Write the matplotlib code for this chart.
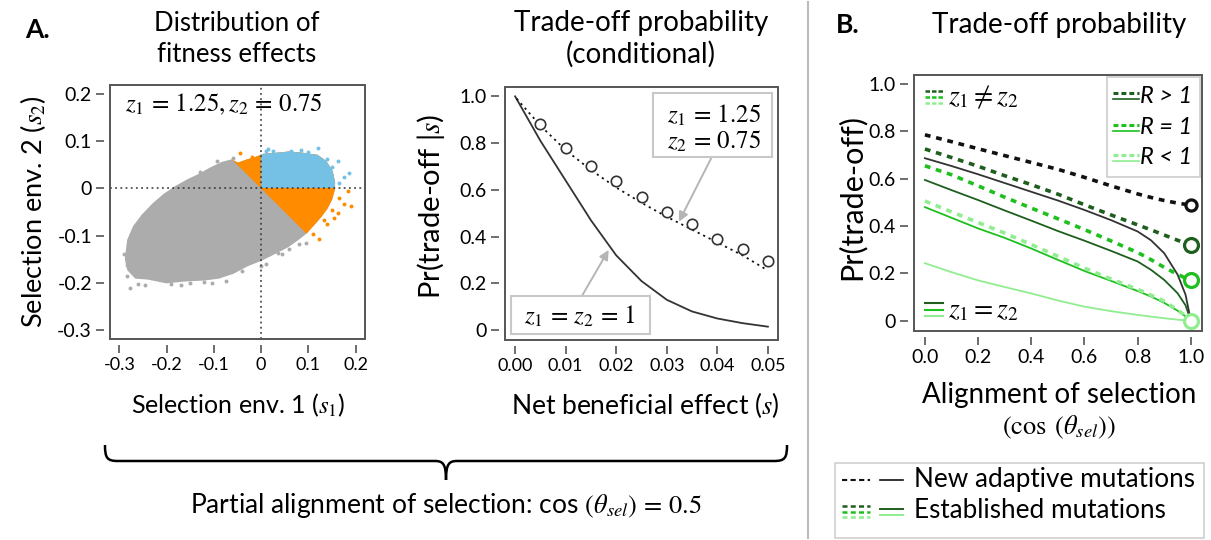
import matplotlib
matplotlib.use("Agg")
import matplotlib.pyplot as plt
from matplotlib.patches import Polygon, Rectangle, PathPatch
from matplotlib.path import Path
from matplotlib.lines import Line2D

plt.rcParams['font.family'] = ['Lato', 'DejaVu Sans']
plt.rcParams['mathtext.fontset'] = 'stix'

W, H = 1211, 540

# ---------------- data: panel A1 (distribution of fitness effects) -------------
cloud_s1 = [-0.285, -0.280, -0.268, -0.250, -0.228, -0.205, -0.180, -0.155, -0.130,
            -0.105, -0.082, -0.063, -0.049, -0.030, -0.010, 0.005, 0.030, 0.060,
            0.090, 0.118, 0.135, 0.148, 0.153, 0.152, 0.147, 0.138, 0.125, 0.110,
            0.094, 0.075, 0.055, 0.030, 0.000, -0.030, -0.060, -0.090, -0.120,
            -0.160, -0.200, -0.240, -0.265, -0.280]
cloud_s2 = [-0.150, -0.110, -0.082, -0.058, -0.035, -0.015, 0.002, 0.016, 0.028,
            0.042, 0.053, 0.058, 0.051, 0.058, 0.064, 0.070, 0.072, 0.075,
            0.072, 0.068, 0.056, 0.036, 0.012, -0.004, -0.022, -0.040, -0.058, -0.075,
            -0.093, -0.108, -0.122, -0.135, -0.150, -0.162, -0.178, -0.188, -0.192,
            -0.194, -0.198, -0.190, -0.188, -0.172]
gray_pts_s1 = [-0.277, -0.260, -0.284, -0.274, -0.204, -0.094, 0.096, 0.035, -0.074,
               -0.190, -0.230, -0.150, -0.120, 0.060, -0.285, -0.245, -0.170, -0.105,
               -0.040, 0.010, 0.045, 0.080, -0.290, -0.215, -0.130, -0.060, 0.000]
gray_pts_s2 = [-0.211, -0.204, -0.162, -0.102, -0.013, 0.058, -0.116, -0.137, -0.197,
               -0.204, -0.060, -0.200, -0.199, -0.128, -0.185, -0.205, -0.206, -0.200,
               -0.175, -0.160, -0.140, -0.118, -0.140, -0.030, 0.035, 0.064, -0.165]
orange_pts_s1 = [-0.045, 0.190, 0.183, 0.162, 0.155, 0.134, 0.123, 0.109, 0.176, 0.165,
                 -0.020, 0.140, 0.150]
orange_pts_s2 = [0.0745, -0.038, -0.006, -0.052, -0.062, -0.066, -0.108, -0.096, -0.034, -0.020,
                 0.066, -0.075, -0.045]
blue_pts_s1 = [0.014, 0.120, 0.162, 0.187, 0.176, 0.064, 0.043, 0.100, 0.150, 0.010,
               0.025, 0.085, 0.140, 0.165]
blue_pts_s2 = [0.083, 0.0866, 0.058, 0.033, 0.025, 0.079, 0.074, 0.078, 0.045, 0.079,
               0.080, 0.082, 0.062, 0.012]

# ---------------- data: panel A2 (conditional trade-off probability) -----------
s_grid = [0.0, 0.005, 0.01, 0.015, 0.02, 0.025, 0.03, 0.035, 0.04, 0.045, 0.05]
p_equal = [1.0, 0.81, 0.64, 0.47, 0.32, 0.21, 0.13, 0.08, 0.05, 0.03, 0.015]
s_dot = [0.0003, 0.005, 0.01, 0.015, 0.02, 0.025, 0.03, 0.035, 0.04, 0.045, 0.05]
p_unequal = [0.99, 0.875, 0.77, 0.685, 0.61, 0.545, 0.485, 0.43, 0.375, 0.32, 0.255]
s_sim = [0.005, 0.01, 0.015, 0.02, 0.025, 0.03, 0.035, 0.04, 0.045, 0.05]
p_sim = [0.883, 0.781, 0.704, 0.637, 0.569, 0.504, 0.453, 0.39, 0.346, 0.296]

# ---------------- data: panel B (trade-off probability vs alignment) -----------
cos_grid = [0.0, 0.1, 0.2, 0.3, 0.4, 0.5, 0.6, 0.7, 0.8, 0.85, 0.9, 0.95, 0.98, 1.0]
new_uneq = [0.786, 0.757, 0.727, 0.698, 0.669, 0.640, 0.606, 0.570, 0.536, 0.521, 0.508, 0.497, 0.492, 0.490]
est_hi_uneq = [0.726, 0.690, 0.653, 0.613, 0.575, 0.535, 0.490, 0.447, 0.405, 0.384, 0.362, 0.340, 0.328, 0.320]
est_eq1_uneq = [0.655, 0.617, 0.570, 0.522, 0.476, 0.431, 0.385, 0.337, 0.288, 0.258, 0.225, 0.196, 0.180, 0.170]
est_lo_uneq = [0.506, 0.460, 0.415, 0.370, 0.322, 0.272, 0.222, 0.176, 0.132, 0.108, 0.082, 0.045, 0.020, 0.0]
new_eq = [0.687, 0.654, 0.619, 0.582, 0.545, 0.508, 0.468, 0.425, 0.377, 0.340, 0.285, 0.195, 0.110, 0.0]
est_hi_eq = [0.595, 0.552, 0.510, 0.466, 0.423, 0.379, 0.338, 0.295, 0.250, 0.215, 0.172, 0.116, 0.065, 0.0]
est_eq1_eq = [0.480, 0.435, 0.390, 0.350, 0.305, 0.257, 0.210, 0.168, 0.125, 0.102, 0.075, 0.042, 0.018, 0.0]
est_lo_eq = [0.243, 0.205, 0.170, 0.142, 0.115, 0.085, 0.059, 0.040, 0.024, 0.017, 0.010, 0.004, 0.001, 0.0]
end_cos = [1.0, 1.0, 1.0, 1.0]
end_vals = [0.490, 0.320, 0.170, 0.0]

C_DG = '#1e5f1e'
C_G = '#1ec01e'
C_LG = '#90ee90'
C_BLK = '#111111'
C_SOL = '#333333'
C_GRAY = '#acacac'
C_OR = '#ff8c00'
C_BL = '#74c1e5'
FRAME = '#555555'


def fx(X):
    return X / W


def fy(Y):
    return 1 - Y / H


def make_ax(X0, X1, Y0, Y1):
    ax = fig.add_axes([fx(X0), fy(Y1), (X1 - X0) / W, (Y1 - Y0) / H])
    for sp in ['top', 'right']:
        ax.spines[sp].set_visible(False)
    for sp in ['bottom', 'left']:
        ax.spines[sp].set_position(('outward', 4))
        ax.spines[sp].set_color('none')
    ax.add_patch(Rectangle((0, 0), 1, 1, transform=ax.transAxes, fill=False,
                           ec=FRAME, lw=1.4, clip_on=False, zorder=10))
    ax.tick_params(direction='out', length=6, width=1.2, color=FRAME, pad=3)
    return ax


fig = plt.figure(figsize=(W / 100, H / 100), dpi=100)

# ======================= Panel A1 ==========================
ax1 = make_ax(110, 365, 85, 339)
ax1.set_xlim(-0.32, 0.22)
ax1.set_ylim(-0.32, 0.22)
verts = list(zip(cloud_s1, cloud_s2))
ax1.add_patch(Polygon(verts, closed=True, fc=C_GRAY, ec=C_GRAY, lw=2.5, zorder=2))
ax1.scatter(gray_pts_s1, gray_pts_s2, s=8, c=C_GRAY, lw=0, zorder=2)
orange = Polygon(verts, closed=True, fc=C_OR, ec=C_OR, lw=2.5, zorder=3)
ax1.add_patch(orange)
half = Polygon([(-1, 1), (1, -1), (1, 1)], closed=True, transform=ax1.transData)
orange.set_clip_path(half)
blue = Polygon(verts, closed=True, fc=C_BL, ec=C_BL, lw=2.5, zorder=4)
ax1.add_patch(blue)
quad = Polygon([(0, 0), (1, 0), (1, 1), (0, 1)], closed=True, transform=ax1.transData)
blue.set_clip_path(quad)
ax1.scatter(orange_pts_s1, orange_pts_s2, s=8, c=C_OR, lw=0, zorder=3)
ax1.scatter(blue_pts_s1, blue_pts_s2, s=8, c=C_BL, lw=0, zorder=4)
ax1.axhline(0, color='#333333', ls=(0, (1.2, 2.2)), lw=1.1, zorder=5)
ax1.axvline(0, color='#333333', ls=(0, (1.2, 2.2)), lw=1.1, zorder=5)
a1_ticks = [-0.3, -0.2, -0.1, 0, 0.1, 0.2]
a1_labels = ['-0.3', '-0.2', '-0.1', '0', '0.1', '0.2']
ax1.set_xticks(a1_ticks, a1_labels, fontsize=13)
ax1.set_yticks(a1_ticks, a1_labels, fontsize=14)
ax1.text(0.06, 0.925, r'$z_1\,=\,1.25, z_2\,=\,0.75$', transform=ax1.transAxes,
         fontsize=18, ha='left', va='center', zorder=6)

# ======================= Panel A2 ==========================
ax2 = make_ax(505, 778, 87, 340)
ax2.set_xlim(-0.002, 0.052)
ax2.set_ylim(-0.042, 1.04)
ax2.plot(s_grid, p_equal, color=C_SOL, lw=1.3)
ax2.plot(s_dot, p_unequal, color=C_BLK, lw=1.3, ls=(0, (1.2, 2.2)))
ax2.plot(s_sim, p_sim, ls='none', marker='o', ms=7.5, mfc='white', mec=C_SOL, mew=1.2)
ax2.set_xticks([0, 0.01, 0.02, 0.03, 0.04, 0.05],
               ['0.00', '0.01', '0.02', '0.03', '0.04', '0.05'], fontsize=13)
ax2.set_yticks([0, 0.2, 0.4, 0.6, 0.8, 1.0], ['0', '0.2', '0.4', '0.6', '0.8', '1.0'], fontsize=14)
# annotation boxes
ax2.add_patch(Rectangle((0.0272, 0.74), 0.0236, 0.273, fc='white', ec='#c8c8c8', lw=1.5, zorder=6))
ax2.text(0.0486, 0.92, r'$z_1\,=\,1.25$', ha='right', va='center', fontsize=18, zorder=7)
ax2.text(0.0486, 0.808, r'$z_2\,=\,0.75$', ha='right', va='center', fontsize=18, zorder=7)
ax2.annotate('', xy=(0.0324, 0.464), xytext=(0.0388, 0.736),
             arrowprops=dict(arrowstyle='-|>', color='#b5b5b5', lw=1.4, mutation_scale=14,
                             shrinkA=0, shrinkB=0))
ax2.add_patch(Rectangle((-0.0008, -0.017), 0.0274, 0.163, fc='white', ec='#c8c8c8', lw=1.5, zorder=6))
ax2.text(0.0128, 0.058, r'$z_1\,=\,z_2\,=\,1$', ha='center', va='center', fontsize=18, zorder=7)
ax2.annotate('', xy=(0.0185, 0.343), xytext=(0.0132, 0.146),
             arrowprops=dict(arrowstyle='-|>', color='#b5b5b5', lw=1.4, mutation_scale=14,
                             shrinkA=0, shrinkB=0))

# ======================= Panel B ==========================
axb = make_ax(914, 1202, 75, 331)
axb.set_xlim(-0.041, 1.042)
axb.set_ylim(-0.044, 1.039)
dash = (0, (1.6, 1.6))
axb.plot(cos_grid, est_lo_eq, color=C_LG, lw=1.3)
axb.plot(cos_grid, est_eq1_eq, color=C_G, lw=1.3)
axb.plot(cos_grid, est_hi_eq, color=C_DG, lw=1.3)
axb.plot(cos_grid, new_eq, color=C_SOL, lw=1.3)
axb.plot(cos_grid, est_lo_uneq, color=C_LG, lw=2.6, ls=dash)
axb.plot(cos_grid, est_eq1_uneq, color=C_G, lw=2.6, ls=dash)
axb.plot(cos_grid, est_hi_uneq, color=C_DG, lw=2.6, ls=dash)
axb.plot(cos_grid, new_uneq, color=C_BLK, lw=2.6, ls=dash)
end_cols = [C_BLK, C_DG, C_G, C_LG]
end_ms = [8, 10, 10, 10]
for xv, yv, cc, mm in zip(end_cos, end_vals, end_cols, end_ms):
    axb.plot([xv], [yv], ls='none', marker='o', ms=mm, mfc='white', mec=cc, mew=2.3,
             zorder=8, clip_on=False)
axb.set_xticks([0, 0.2, 0.4, 0.6, 0.8, 1.0], ['0.0', '0.2', '0.4', '0.6', '0.8', '1.0'], fontsize=14)
axb.set_yticks([0, 0.2, 0.4, 0.6, 0.8, 1.0], ['0', '0.2', '0.4', '0.6', '0.8', '1.0'], fontsize=14)


def ax_fx(X):
    return (X - 914) / 288


def ax_fy(Y):
    return (331 - Y) / 256


# legend box (R)
axb.add_patch(Rectangle((ax_fx(1107.3), ax_fy(176.7)), ax_fx(1199.5) - ax_fx(1107.3),
                        ax_fy(77.3) - ax_fy(176.7), transform=axb.transAxes,
                        fc='white', ec='#cccccc', lw=1.2, zorder=9))
leg_items = [('R > 1', C_DG, 93.3), ('R = 1', C_G, 125), ('R < 1', C_LG, 155)]
for lab, col, yy in leg_items:
    axb.add_line(Line2D([ax_fx(1113), ax_fx(1139)], [ax_fy(yy), ax_fy(yy)], transform=axb.transAxes,
                        color=col, lw=2.2, ls=(0, (1.6, 1.0)), zorder=10))
    axb.add_line(Line2D([ax_fx(1113), ax_fx(1139)], [ax_fy(yy + 6), ax_fy(yy + 6)], transform=axb.transAxes,
                        color=col, lw=1.2, zorder=10))
    axb.text(ax_fx(1140), ax_fy(yy + 3), lab, transform=axb.transAxes, fontsize=17,
             style='italic', ha='left', va='center', zorder=10)

# z1 != z2 / z1 = z2 labels
for i, col in enumerate([C_DG, C_G, C_LG]):
    yy = 90.7 + 6.2 * i
    axb.add_line(Line2D([ax_fx(925), ax_fx(943)], [ax_fy(yy), ax_fy(yy)], transform=axb.transAxes,
                        color=col, lw=1.8, ls=(0, (1.8, 0.8)), zorder=10))
    yy2 = 303.3 + 6.3 * i
    axb.add_line(Line2D([ax_fx(925), ax_fx(943)], [ax_fy(yy2), ax_fy(yy2)], transform=axb.transAxes,
                        color=col, lw=1.5, zorder=10))
axb.text(ax_fx(948), ax_fy(97), r'$z_1 \neq z_2$', transform=axb.transAxes, fontsize=20,
         ha='left', va='center', zorder=10)
axb.text(ax_fx(948), ax_fy(310), r'$z_1 = z_2$', transform=axb.transAxes, fontsize=20,
         ha='left', va='center', zorder=10)

# ======================= figure texts ==========================
fig.text(fx(37), fy(30), 'A.', fontsize=19, fontweight='bold', ha='center', va='center')
fig.text(fx(848), fy(25), 'B.', fontsize=19, fontweight='bold', ha='center', va='center')
fig.text(fx(237), fy(39), 'Distribution of\nfitness effects', fontsize=18.5, ha='center',
         va='center', linespacing=1.3)
fig.text(fx(641), fy(39), 'Trade-off probability\n(conditional)', fontsize=20, ha='center',
         va='center', linespacing=1.25)
fig.text(fx(1059), fy(25), 'Trade-off probability', fontsize=20, ha='center', va='center')

fig.text(fx(33), fy(212), r'Selection env. 2 ($s_2$)', fontsize=19.5, rotation=90, ha='center', va='center')
fig.text(fx(431), fy(206), r'Pr(trade-off |$s$)', fontsize=21, rotation=90, ha='center', va='center')
fig.text(fx(851), fy(197), 'Pr(trade-off)', fontsize=22, rotation=90, ha='center', va='center')
fig.text(fx(238), fy(405), r'Selection env. 1 ($s_1$)', fontsize=18, ha='center', va='center')
fig.text(fx(645), fy(405), r'Net beneficial effect ($s$)', fontsize=19, ha='center', va='center')
fig.text(fx(1059), fy(395), 'Alignment of selection', fontsize=20, ha='center', va='center')
fig.text(fx(1059), fy(427), r'$(\cos\;(\theta_{sel}))$', fontsize=19, ha='center', va='center')
fig.text(fx(446), fy(505), r'Partial alignment of selection: cos $(\theta_{sel})\,=\,0.5$', fontsize=19,
         ha='center', va='center')

# brace
def P(X, Y):
    return (fx(X), fy(Y))


brace_left = Path([P(105, 445), P(105, 458), P(107, 461), P(118, 461), P(435, 461),
                   P(443, 461), P(446, 464), P(446, 480)],
                  [Path.MOVETO, Path.CURVE4, Path.CURVE4, Path.CURVE4, Path.LINETO,
                   Path.CURVE4, Path.CURVE4, Path.CURVE4])
brace_right = Path([P(787, 445), P(787, 458), P(785, 461), P(774, 461), P(457, 461),
                    P(449, 461), P(446, 464), P(446, 480)],
                   [Path.MOVETO, Path.CURVE4, Path.CURVE4, Path.CURVE4, Path.LINETO,
                    Path.CURVE4, Path.CURVE4, Path.CURVE4])
for pth in (brace_left, brace_right):
    fig.patches.append(PathPatch(pth, transform=fig.transFigure, fill=False, lw=1.8, ec='black'))

# separator
fig.add_artist(Line2D([fx(808), fx(808)], [fy(2), fy(538)], color='#bbbbbb', lw=1.5))

# bottom legend
fig.patches.append(Rectangle(P(835, 538), (1204 - 835) / W, (538 - 463) / H, transform=fig.transFigure,
                             fill=False, ec='#d0d0d0', lw=1.2))
fig.add_artist(Line2D([fx(842), fx(870)], [fy(480), fy(480)], color=C_BLK, lw=1.5, ls=(0, (2.5, 1.6))))
fig.add_artist(Line2D([fx(880), fx(903)], [fy(480), fy(480)], color=C_BLK, lw=1.2))
for i, col in enumerate([C_DG, C_G, C_LG]):
    yy = 506 + 5.5 * i
    fig.add_artist(Line2D([fx(842), fx(870)], [fy(yy), fy(yy)], color=col, lw=1.8, ls=(0, (2.0, 1.3))))
for i, col in enumerate([C_DG, C_LG]):
    yy = 508.5 + 6 * i
    fig.add_artist(Line2D([fx(880), fx(903)], [fy(yy), fy(yy)], color=col, lw=1.4))
fig.text(fx(914), fy(480), 'New adaptive mutations', fontsize=18.8, ha='left', va='center')
fig.text(fx(914), fy(511), 'Established mutations', fontsize=18.8, ha='left', va='center')

fig.savefig('out.png', dpi=100)
